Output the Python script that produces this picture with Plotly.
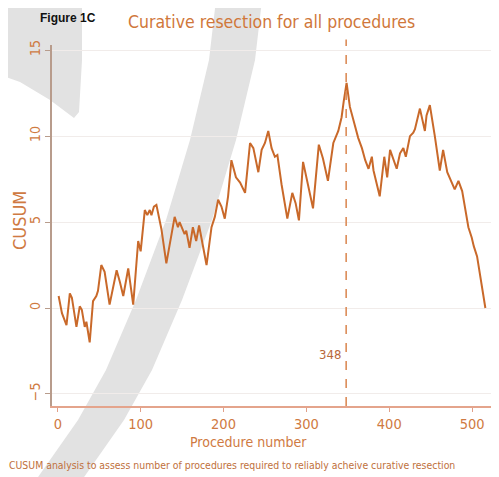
import plotly.graph_objects as go

# ---- data ----
procedure = [1, 5, 10.5, 14.5, 17, 22.5, 26.5, 29, 32.5, 34.5, 38.5, 42.5, 46.5, 48.5,
             52.5, 56.5, 62.5, 66.5, 71, 75, 79, 85, 91, 97, 100, 105, 108, 111, 113,
             116, 119, 125, 131, 141, 145, 147, 153, 155, 159, 163, 167, 170.5, 179.5,
             185.5, 189.5, 193.5, 197.5, 201.5, 205.5, 209.5, 215, 220, 226, 232, 236,
             242, 246, 250, 254, 258, 262, 265, 270, 277, 283, 287, 291, 296, 300, 308,
             315, 320, 326, 332.5, 338.5, 342.5, 345, 348.5, 352.5, 358, 362.5, 367,
             371, 375, 379, 381, 388.5, 394, 397.5, 401, 405, 409, 413, 417, 420, 425,
             429, 431, 437, 443, 445, 449, 455, 461, 465, 470, 479, 483.5, 488, 495.5,
             499.5, 502, 506, 516]
cusum = [0.7, -0.3, -1.0, 0.85, 0.6, -1.1, 0.1, -0.1, -1.1, -0.8, -2.0, 0.4, 0.7, 1.0,
         2.5, 2.1, 0.2, 1.2, 2.2, 1.5, 0.7, 2.3, 0.2, 3.9, 3.3, 5.7, 5.4, 5.7, 5.4,
         5.9, 6.0, 4.6, 2.6, 5.3, 4.7, 5.0, 4.3, 4.5, 3.5, 4.7, 3.9, 4.8, 2.5,
         4.7, 5.3, 6.3, 5.9, 5.2, 6.5, 8.6, 7.6, 7.3, 6.7, 9.6, 9.3,
         7.9, 9.2, 9.6, 10.3, 9.3, 8.8, 8.9, 7.2, 5.2, 6.7, 6.1, 5.1, 8.5, 7.6, 5.8,
         9.5, 8.7, 7.4, 9.6, 10.3, 11.1, 12.0, 13.1, 11.7, 10.7, 9.9, 9.3,
         8.6, 8.1, 8.8, 8.0, 6.5, 8.8, 7.6, 9.2, 8.7, 8.1, 9.0, 9.3, 8.8, 10.0,
         10.2, 10.4, 11.6, 10.3, 11.2, 11.8, 10.0, 8.0, 9.2, 7.9, 6.9, 7.4, 6.8, 4.7,
         4.1, 3.6, 3.0, 0.0]
x_ticks = [0, 100, 200, 300, 400, 500]
y_ticks = [-5, 0, 5, 10, 15]
change_point = 348
change_label_y = -2.7

ORANGE = "#c9692a"
TXT = "#cf7a42"
NARROW = "DejaVu Sans Condensed, Liberation Sans Narrow, Arial Narrow, sans-serif"

fig = go.Figure()
fig.add_trace(go.Scatter(x=procedure, y=cusum, mode="lines",
                         line=dict(color=ORANGE, width=2), showlegend=False,
                         hoverinfo="skip"))

# window geometry: the page body has an 8px margin, so the figure starts at (8, 8)
WIN_W, WIN_H, OFF = 499, 477, 8
W, H = WIN_W - OFF, WIN_H - OFF
# plot-area edges in window pixels
L, R, T, B = 52, 492, 45, 406
def px(xp, yp):
    return (xp - L) / (R - L), (B - yp) / (B - T)

def path(points):
    s = ""
    for i, (a, b) in enumerate(points):
        u, v = px(a, b)
        s += ("M" if i == 0 else "L") + f"{u:.4f},{v:.4f} "
    return s + "Z"

# decorative grey swoosh visible in the reference screenshot
center = [(60, 480), (102, 420), (130, 370), (160, 300), (190, 220), (214, 140),
          (233, 60), (240, 0)]
left_edge = [(c[0] - 24, c[1]) for c in center]
right_edge = [(c[0] + 22, c[1]) for c in reversed(center)]
band = path(left_edge + right_edge)
crescent = path([(0, 0), (82, 0), (82, 60), (79, 112), (74, 118), (50, 100), (20, 82), (0, 75)])

shapes = [
    dict(type="path", path=band, xref="paper", yref="paper", fillcolor="#e2e2e2",
         line=dict(width=0), layer="below"),
    dict(type="path", path=crescent, xref="paper", yref="paper", fillcolor="#e2e2e2",
         line=dict(width=0), layer="below"),
    dict(type="line", x0=change_point, x1=change_point, y0=0, y1=1.015, xref="x",
         yref="paper", line=dict(color="#dc8c58", width=1.6, dash="dash")),
]

def ann(text, xp, yp, size, color, anchor="center", angle=0, family=NARROW):
    u, v = px(xp, yp)
    return dict(text=text, x=u, y=v, xref="paper", yref="paper", xanchor=anchor,
                yanchor="middle", showarrow=False, textangle=angle,
                font=dict(family=family, size=size, color=color))

annotations = [
    ann("<b>Figure 1C</b>", 38, 18, 12, "#111111", anchor="left",
        family="Liberation Sans, Arial, sans-serif"),
    ann("Curative resection for all procedures", 271, 22, 17.5, "#d0773a"),
    ann("Procedure number", 248, 442, 14, TXT),
    ann("CUSUM", 19, 221, 18, TXT, angle=-90),
    ann("CUSUM analysis to assess number of procedures required to reliably acheive curative resection",
        7, 465, 10.4, "#c0703c", anchor="left"),
    dict(text=str(change_point), x=change_point, y=change_label_y, xref="x", yref="y",
         xanchor="right", yanchor="middle", xshift=-3, showarrow=False,
         font=dict(family=NARROW, size=13, color="#b8683a")),
]

fig.update_layout(
    width=W, height=H,
    margin=dict(l=L - OFF, r=WIN_W - R, t=T - OFF, b=WIN_H - B, autoexpand=False),
    paper_bgcolor="#ffffff", plot_bgcolor="rgba(0,0,0,0)",
    shapes=shapes, annotations=annotations,
    xaxis=dict(range=[-7, 524], tickvals=x_ticks, ticks="outside", ticklen=4,
               tickcolor="#e0a08a", showline=True, linecolor="#e4a48c", linewidth=1.5,
               showgrid=False, zeroline=False, automargin=False,
               tickfont=dict(family=NARROW, size=14.5, color=TXT)),
    yaxis=dict(range=[-5.7, 15.3], tickvals=y_ticks, ticks="outside", ticklen=5,
               tickcolor="#b89c8c", showline=True, linecolor="#b89c8c", linewidth=1.5,
               showgrid=True, gridcolor="#f1ecea", gridwidth=1, zeroline=False,
               automargin=False,
               tickangle=-90, tickfont=dict(family=NARROW, size=14, color=TXT)),
)

fig.write_html("out.html")
